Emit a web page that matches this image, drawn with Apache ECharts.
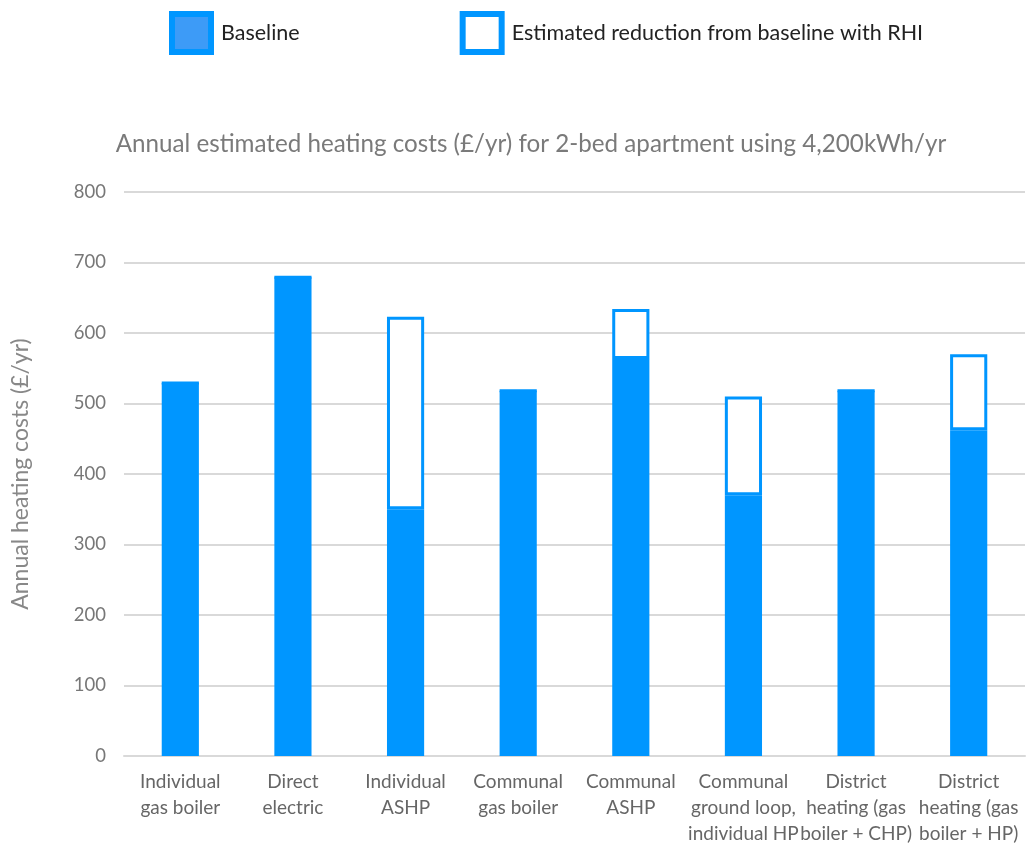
<!DOCTYPE html>
<html>
<head>
<meta charset="utf-8">
<script src="https://cdn.jsdelivr.net/npm/echarts@6/dist/echarts.min.js"></script>
<style>html,body{margin:0;padding:0;background:#fff}#c{width:1027px;height:844px}</style>
</head>
<body>
<div id="c"></div>
<script>
const categories = [
  "Individual\ngas boiler",
  "Direct\nelectric",
  "Individual\nASHP",
  "Communal\ngas boiler",
  "Communal\nASHP",
  "Communal\nground loop,\nindividual HP",
  "District\nheating (gas\nboiler + CHP)",
  "District\nheating (gas\nboiler + HP)"
];
const baseline = [529, 679, 350, 518, 563, 370, 518, 462];
const reduction = [0, 0, 273, 0, 71, 140, 0, 108];
const yTicks = { min: 0, max: 800, interval: 100 };

const blue = '#0096ff';
const chart = echarts.init(document.getElementById('c'), null, { renderer: 'canvas' });
chart.setOption({
  animation: false,
  backgroundColor: '#ffffff',
  title: {
    text: 'Annual estimated heating costs (£/yr) for 2-bed apartment using 4,200kWh/yr',
    left: 526, top: 127, textAlign: 'center',
    textStyle: { fontFamily: 'Lato', fontSize: 24.2, fontWeight: 'normal', color: '#7a7a7a' }
  },
  legend: {
    left: 169, top: 11, padding: 0,
    itemWidth: 39, itemHeight: 38, itemGap: 160,
    textStyle: { fontFamily: 'Lato', fontSize: 21.5, color: '#222', padding: [0, 0, 0, 5] },
    data: [
      { name: 'Baseline', icon: 'rect', itemStyle: { color: '#3d9bf7', borderColor: blue, borderWidth: 6 } },
      { name: 'Estimated reduction from baseline with RHI', icon: 'rect', itemStyle: { color: '#fff', borderColor: blue, borderWidth: 6 } }
    ]
  },
  grid: { left: 124, right: 2, top: 192, bottom: 88, outerBoundsMode: 'none', containLabel: false },
  xAxis: {
    type: 'category', data: categories,
    axisLine: { lineStyle: { color: '#d9d9d9', width: 2 } },
    axisTick: { show: false },
    axisLabel: { fontFamily: 'Lato', fontSize: 19, color: '#666', lineHeight: 26, margin: 13, interval: 0 }
  },
  yAxis: {
    type: 'value', min: yTicks.min, max: yTicks.max, interval: yTicks.interval,
    name: 'Annual heating costs (£/yr)', nameLocation: 'middle', nameGap: 92,
    nameTextStyle: { fontFamily: 'Lato', fontSize: 23, color: '#888' },
    axisLine: { show: false }, axisTick: { show: false },
    axisLabel: { fontFamily: 'Lato', fontSize: 18.5, color: '#777', margin: 18 },
    splitLine: { lineStyle: { color: '#d9d9d9', width: 2 } }
  },
  series: [
    { name: 'Baseline', type: 'bar', stack: 'a', data: baseline, barWidth: '33%',
      itemStyle: { color: blue } },
    { name: 'Estimated reduction from baseline with RHI', type: 'bar', stack: 'a', data: reduction, barWidth: '33%',
      itemStyle: { color: '#fff', borderColor: blue, borderWidth: 3 } }
  ]
});
</script>
</body>
</html>
